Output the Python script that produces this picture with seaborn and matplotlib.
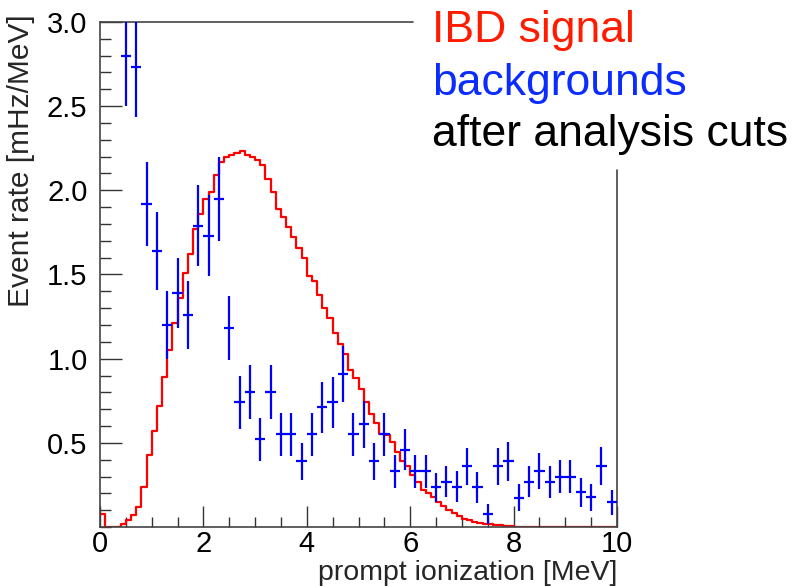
import numpy as np
import pandas as pd
import matplotlib
matplotlib.use("Agg")
import matplotlib.pyplot as plt
import seaborn as sns
from matplotlib.ticker import MultipleLocator, FixedLocator

# IBD signal histogram: 0.1 MeV bins from 0 to 10 MeV
signal_edges = [round(0.1 * i, 1) for i in range(101)]
signal_rate = [
    0.08, 0.0, 0.0, 0.0, 0.02, 0.04, 0.07, 0.12, 0.24, 0.43,
    0.57, 0.72, 0.89, 1.05, 1.21, 1.36, 1.51, 1.62, 1.77, 1.86,
    1.95, 1.99, 2.09, 2.17, 2.20, 2.21, 2.22, 2.235, 2.21, 2.20,
    2.18, 2.15, 2.07, 1.99, 1.89, 1.84, 1.78, 1.72, 1.66, 1.60,
    1.49, 1.46, 1.38, 1.30, 1.24, 1.15, 1.09, 1.03, 0.93, 0.885,
    0.82, 0.74, 0.67, 0.615, 0.555, 0.545, 0.505, 0.445, 0.39, 0.36,
    0.31, 0.27, 0.22, 0.20, 0.18, 0.15, 0.125, 0.10, 0.085, 0.065,
    0.05, 0.04, 0.03, 0.022, 0.018, 0.015, 0.012, 0.009, 0.006, 0.003,
    0.0, 0.0, 0.0, 0.0, 0.0, 0.0, 0.0, 0.0, 0.0, 0.0,
    0.0, 0.0, 0.0, 0.0, 0.0, 0.0, 0.0, 0.0, 0.0, 0.0,
]

# Backgrounds: 0.2 MeV bins, centers 0.5 ... 9.9
bkg_energy = [round(0.5 + 0.2 * i, 1) for i in range(48)]
bkg_rate = [
    2.80, 2.735, 1.92, 1.64, 1.20, 1.39, 1.26, 1.79, 1.73, 1.95,
    1.18, 0.74, 0.80, 0.52, 0.80, 0.55, 0.55, 0.39, 0.55, 0.71,
    0.74, 0.91, 0.55, 0.61, 0.39, 0.55, 0.33, 0.46, 0.33, 0.33,
    0.235, 0.27, 0.24, 0.36, 0.235, 0.077, 0.36, 0.39, 0.174, 0.27,
    0.33, 0.27, 0.30, 0.30, 0.206, 0.176, 0.36, 0.146,
]
bkg_err = [
    0.30, 0.30, 0.25, 0.23, 0.20, 0.21, 0.20, 0.24, 0.24, 0.25,
    0.19, 0.156, 0.16, 0.13, 0.16, 0.13, 0.13, 0.11, 0.13, 0.15,
    0.15, 0.165, 0.13, 0.14, 0.11, 0.13, 0.10, 0.12, 0.10, 0.10,
    0.085, 0.094, 0.09, 0.11, 0.09, 0.057, 0.11, 0.114, 0.08, 0.093,
    0.107, 0.095, 0.10, 0.10, 0.085, 0.082, 0.113, 0.076,
]
bkg_halfwidth = 0.1

x_ticks = [0, 2, 4, 6, 8, 10]
y_ticks = [0.5, 1.0, 1.5, 2.0, 2.5, 3.0]
y_ticklabels = ["0.5", "1.0", "1.5", "2.0", "2.5", "3.0"]

legend_lines = ["IBD signal", "backgrounds", "after analysis cuts"]
legend_colors = ["#ff1a00", "#0a2cff", "black"]

sns.set_style("white")
plt.rcParams["font.family"] = ["Liberation Sans", "DejaVu Sans"]

W, H = 811, 586
fig = plt.figure(figsize=(W / 100, H / 100), dpi=100)
ax = fig.add_axes([100 / W, 1 - 527 / H, 517 / W, 505 / H])

sig_df = pd.DataFrame({
    "energy": [round(e + 0.05, 3) for e in signal_edges[:-1]],
    "rate": signal_rate,
})
sns.histplot(data=sig_df, x="energy", weights="rate", bins=signal_edges,
             element="step", fill=False, color="#ff0000", linewidth=1.6,
             ax=ax, zorder=2)

ax.errorbar(bkg_energy, bkg_rate, yerr=bkg_err, xerr=bkg_halfwidth,
            fmt="none", ecolor="#0000ff", elinewidth=1.6, capsize=0,
            zorder=3)

ax.set_xlim(0, 10)
ax.set_ylim(0, 3.0)
ax.set_xlabel("")
ax.set_ylabel("")

ax.xaxis.set_major_locator(FixedLocator(x_ticks))
ax.xaxis.set_minor_locator(MultipleLocator(0.5))
ax.yaxis.set_major_locator(FixedLocator(y_ticks))
ax.set_yticklabels(y_ticklabels)
ax.yaxis.set_minor_locator(MultipleLocator(0.1))

ax.tick_params(axis="both", which="both", direction="in",
               left=True, bottom=True, top=False, right=False,
               colors="#333333", labelcolor="black")
ax.tick_params(axis="x", which="major", length=15, width=1.0, labelsize=21, pad=2)
ax.tick_params(axis="x", which="minor", length=7, width=1.0)
ax.tick_params(axis="y", which="major", length=16, width=1.0, labelsize=21, pad=9)
ax.tick_params(axis="y", which="minor", length=8, width=1.0)

for side in ["top", "right"]:
    ax.spines[side].set_visible(False)
for side in ["left", "bottom"]:
    ax.spines[side].set_color("#444444")
    ax.spines[side].set_linewidth(1.2)

# partial frame lines (top and right), interrupted by the legend text
ax.plot([0, (413 - 100) / 517], [1, 1], transform=ax.transAxes,
        color="#444444", lw=1.2, clip_on=False)
ax.plot([1, 1], [0, (527 - 170) / 505], transform=ax.transAxes,
        color="#444444", lw=1.2, clip_on=False)

fig.text(617 / W, 1 - 580 / H, "prompt ionization [MeV]", ha="right",
         va="baseline", fontsize=20.5)
fig.text(21 / W, 1 - 161 / H, "Event rate [mHz/MeV]", rotation=90,
         ha="center", va="center", fontsize=21.5)

baselines = [42, 95, 146]
for txt, col, b in zip(legend_lines, legend_colors, baselines):
    fig.text(432 / W, 1 - b / H, txt, color=col, fontsize=32,
             ha="left", va="baseline")

fig.savefig("out.png", dpi=100)
